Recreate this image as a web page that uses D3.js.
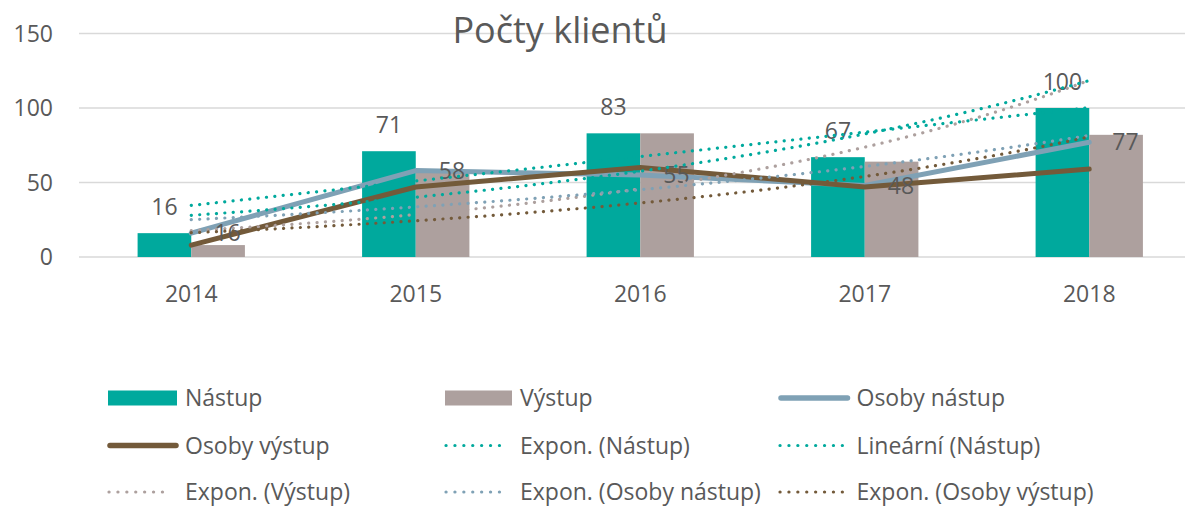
<!DOCTYPE html>
<html>
<head>
<meta charset="utf-8">
<script src="https://cdn.jsdelivr.net/npm/d3@7"></script>
<style>
  body { margin: 0; background: #fff; }
  text { font-family: "Open Sans", sans-serif; fill: #595959; }
</style>
</head>
<body>
<div id="chart"></div>
<script>
// data
const years = ["2014", "2015", "2016", "2017", "2018"];
const nastup = [16, 71, 83, 67, 100];
const vystup = [8, 58, 83, 64, 82];
const osobyNastup = [16, 58, 55, 48, 77];
const osobyVystup = [8, 47, 60, 47, 59];
const yTicks = [0, 50, 100, 150];

const teal = "#00A99D", mauve = "#ADA09E", steel = "#7FA1B5", brown = "#735A3A";

let width = 1185, height = 507;

let svg = d3.select("#chart")
    .append("svg")
    .attr("width", width)
    .attr("height", height);

// scales
let x = d3.scaleBand().domain(years).range([79, 1201.5]).padding(0);
let bw = x.bandwidth();
let x1 = d3.scaleBand().domain(["n", "v"]).range([bw * 0.261, bw * 0.739]);
let y = d3.scaleLinear().domain([0, 150]).range([257, 33.5]);
let cx = (i) => x(years[i]) + bw / 2;
// continuous x (1..5) for trend lines
let xc = d3.scaleLinear().domain([1, 5]).range([cx(0), cx(4)]);

// gridlines + y labels
svg.append("g")
    .selectAll("line")
    .data(yTicks)
    .join("line")
    .attr("x1", 79).attr("x2", width)
    .attr("y1", d => y(d)).attr("y2", d => y(d))
    .attr("stroke", "#d9d9d9").attr("stroke-width", 1.5);

svg.append("g")
    .selectAll("text")
    .data(yTicks)
    .join("text")
    .attr("x", 53).attr("y", d => y(d))
    .attr("dy", "0.35em")
    .attr("text-anchor", "end")
    .style("font-size", "23px")
    .text(d => d);

// x labels
svg.append("g")
    .selectAll("text")
    .data(years)
    .join("text")
    .attr("x", (d, i) => cx(i)).attr("y", 301.5)
    .attr("text-anchor", "middle")
    .style("font-size", "23px")
    .text(d => d);

// title
svg.append("text")
    .attr("x", 560).attr("y", 43)
    .attr("text-anchor", "middle")
    .style("font-size", "36px")
    .text("Počty klientů");

// bars
svg.append("g").selectAll("rect")
    .data(nastup)
    .join("rect")
    .attr("x", (d, i) => x(years[i]) + x1("n"))
    .attr("width", x1.bandwidth())
    .attr("y", d => y(d))
    .attr("height", d => y(0) - y(d))
    .attr("fill", teal);

svg.append("g").selectAll("rect")
    .data(vystup)
    .join("rect")
    .attr("x", (d, i) => x(years[i]) + x1("v"))
    .attr("width", x1.bandwidth())
    .attr("y", d => y(d))
    .attr("height", d => y(0) - y(d))
    .attr("fill", mauve);

// lines
let line = d3.line().x((d, i) => cx(i)).y(d => y(d));

svg.append("path").datum(osobyNastup)
    .attr("d", line)
    .attr("fill", "none").attr("stroke", steel)
    .attr("stroke-width", 5).attr("stroke-linecap", "round").attr("stroke-linejoin", "round");

svg.append("path").datum(osobyVystup)
    .attr("d", line)
    .attr("fill", "none").attr("stroke", brown)
    .attr("stroke-width", 5).attr("stroke-linecap", "round").attr("stroke-linejoin", "round");

// data labels
svg.append("g").selectAll("text")
    .data(nastup)
    .join("text")
    .attr("x", (d, i) => x(years[i]) + x1("n") + x1.bandwidth() / 2)
    .attr("y", d => y(d) - 18.5)
    .attr("text-anchor", "middle")
    .style("font-size", "23px")
    .text(d => d);

svg.append("g").selectAll("text")
    .data(osobyNastup)
    .join("text")
    .attr("x", (d, i) => cx(i) + 23)
    .attr("y", d => y(d))
    .attr("dy", "0.35em")
    .style("font-size", "23px")
    .text(d => d);

// trend lines (least squares, like the spreadsheet does)
function linFit(vals) {
    let xs = vals.map((d, i) => i + 1);
    let mx = d3.mean(xs), my = d3.mean(vals);
    let b = d3.sum(xs, (xv, i) => (xv - mx) * (vals[i] - my)) / d3.sum(xs, xv => (xv - mx) ** 2);
    let a = my - b * mx;
    return t => a + b * t;
}
function expFit(vals) {
    let f = linFit(vals.map(Math.log));
    return t => Math.exp(f(t));
}

let trends = [
    { name: "Expon. (Nástup)", color: teal, fn: expFit(nastup) },
    { name: "Lineární (Nástup)", color: teal, fn: linFit(nastup) },
    { name: "Expon. (Výstup)", color: mauve, fn: expFit(vystup) },
    { name: "Expon. (Osoby nástup)", color: steel, fn: expFit(osobyNastup) },
    { name: "Expon. (Osoby výstup)", color: brown, fn: expFit(osobyVystup) }
];

let tline = d3.line().x(d => xc(d[0])).y(d => y(d[1]));
let steps = d3.range(0, 41).map(k => 1 + k * 0.1);

svg.append("g").selectAll("path")
    .data(trends)
    .join("path")
    .attr("d", t => tline(steps.map(s => [s, t.fn(s)])))
    .attr("fill", "none")
    .attr("stroke", t => t.color)
    .attr("stroke-width", 3.2)
    .attr("stroke-linecap", "round")
    .attr("stroke-dasharray", "0.1 8.3");

// legend
let colText = [185, 520, 856.5];
let colSym = [108, 445, 779];
let rowY = [398, 445.5, 492];

let legendItems = [
    { name: "Nástup", type: "rect", color: teal },
    { name: "Výstup", type: "rect", color: mauve },
    { name: "Osoby nástup", type: "line", color: steel },
    { name: "Osoby výstup", type: "line", color: brown },
    { name: "Expon. (Nástup)", type: "dot", color: teal },
    { name: "Lineární (Nástup)", type: "dot", color: teal },
    { name: "Expon. (Výstup)", type: "dot", color: mauve },
    { name: "Expon. (Osoby nástup)", type: "dot", color: steel },
    { name: "Expon. (Osoby výstup)", type: "dot", color: brown }
];

let lg = svg.append("g").selectAll("g")
    .data(legendItems)
    .join("g")
    .attr("transform", (d, i) => "translate(0," + rowY[Math.floor(i / 3)] + ")");

lg.each(function(d, i) {
    let g = d3.select(this), c = i % 3;
    if (d.type === "rect") {
        g.append("rect")
            .attr("x", colSym[c]).attr("y", -7.5)
            .attr("width", colText[c] - 8 - colSym[c]).attr("height", 15)
            .attr("fill", d.color);
    } else if (d.type === "line") {
        g.append("line")
            .attr("x1", colSym[c] + 2).attr("x2", colText[c] - 9)
            .attr("stroke", d.color).attr("stroke-width", 5.5).attr("stroke-linecap", "round");
    } else {
        g.append("line")
            .attr("x1", colSym[c] + 1).attr("x2", colText[c] - 14)
            .attr("stroke", d.color).attr("stroke-width", 3.2)
            .attr("stroke-linecap", "round").attr("stroke-dasharray", "0.1 8.8");
    }
    g.append("text")
        .attr("x", colText[c]).attr("dy", "0.35em")
        .style("font-size", "23px")
        .text(d.name);
});
</script>
</body>
</html>
